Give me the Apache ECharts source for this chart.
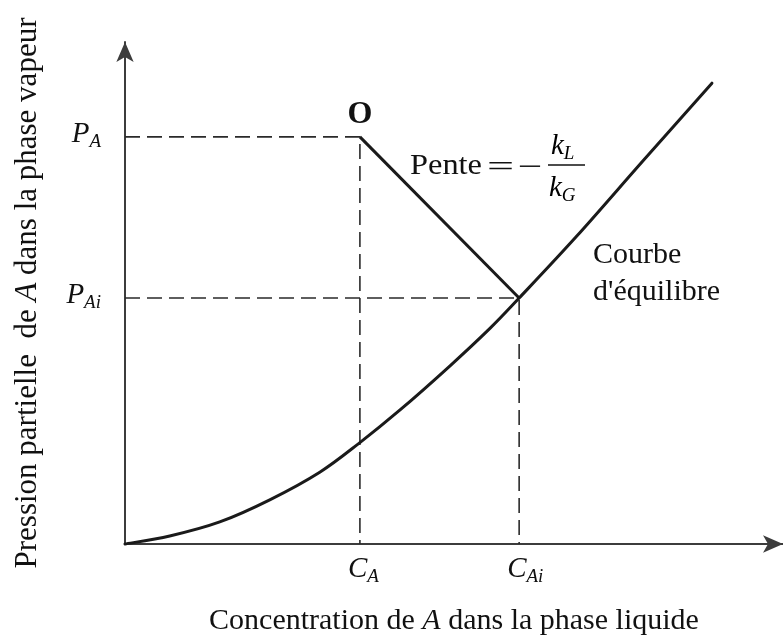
<!DOCTYPE html>
<html>
<head>
<meta charset="utf-8">
<title>Film à deux résistances</title>
<script src="https://cdn.jsdelivr.net/npm/echarts@6/dist/echarts.min.js"></script>
<style>
  html, body { margin: 0; padding: 0; background: #ffffff; }
  #chart { width: 783px; height: 637px; }
</style>
</head>
<body>
<div id="chart"></div>
<script>
// Equilibrium curve (arbitrary units on both axes)
const eqConc  = [0, 6.8, 14.4, 22.0, 29.6, 35.6, 41.8, 49.4, 55.5, 59.9, 68.7, 78.7, 89.2];
const eqPress = [0, 1.6, 4.4, 8.8, 14.3, 20.1, 26.7, 35.5, 43.0, 49.0, 61.4, 76.3, 91.8];

// Bulk point O (C_A, P_A) and interface point (C_Ai, P_Ai)
const bulkPoint = [35.7, 81.1];
const interfacePoint = [59.9, 49.0];

// Axis labels: [main letter, subscript]
const yTickLabels = [['P', 'A'], ['P', 'Ai']];
const xTickLabels = [['C', 'A'], ['C', 'Ai']];

const SERIF = "'Liberation Serif', 'Times New Roman', serif";
const INK = '#111111';

const chart = echarts.init(document.getElementById('chart'), null, { renderer: 'canvas' });

const symbolRich = {
  m: { fontFamily: SERIF, fontStyle: 'italic', fontSize: 29, color: INK, lineHeight: 30 },
  s: { fontFamily: SERIF, fontStyle: 'italic', fontSize: 19, color: INK, padding: [16, 0, 0, 0], lineHeight: 20 }
};
const symbolText = (pair) => '{m|' + pair[0] + '}{s|' + pair[1] + '}';

const dashStyle = { color: '#2a2a2a', width: 1.6, type: [15, 7] };
const arrowLine = {
  show: true, symbol: ['none', 'arrow'], symbolSize: [13, 20], symbolOffset: [0, 0],
  lineStyle: { color: '#3c3c3c', width: 2 }
};

// Smooth Catmull-Rom path through the equilibrium points, in pixel space
function renderEquilibrium(params, api) {
  if (params.dataIndex !== 0) return null;
  const pts = eqConc.map((c, i) => api.coord([c, eqPress[i]]));
  let d = 'M' + pts[0][0] + ' ' + pts[0][1];
  for (let i = 0; i < pts.length - 1; i++) {
    const p0 = pts[Math.max(i - 1, 0)];
    const p1 = pts[i];
    const p2 = pts[i + 1];
    const p3 = pts[Math.min(i + 2, pts.length - 1)];
    const c1x = p1[0] + (p2[0] - p0[0]) / 6, c1y = p1[1] + (p2[1] - p0[1]) / 6;
    const c2x = p2[0] - (p3[0] - p1[0]) / 6, c2y = p2[1] - (p3[1] - p1[1]) / 6;
    d += ' C' + c1x + ' ' + c1y + ' ' + c2x + ' ' + c2y + ' ' + p2[0] + ' ' + p2[1];
  }
  return {
    type: 'path',
    shape: { pathData: d },
    style: { fill: 'none', stroke: '#1a1a1a', lineWidth: 3, lineJoin: 'round', lineCap: 'round' }
  };
}

const option = {
  backgroundColor: '#ffffff',
  animation: false,
  grid: { left: 125, right: 0, top: 42, bottom: 93, outerBoundsMode: 'none' },
  xAxis: {
    type: 'value', min: 0, max: 100,
    name: 'Concentration de {i|A} dans la phase liquide',
    nameLocation: 'middle', nameGap: 62,
    nameTextStyle: {
      fontFamily: SERIF, fontSize: 30, color: INK,
      rich: { i: { fontFamily: SERIF, fontStyle: 'italic', fontSize: 30, color: INK } }
    },
    axisLine: arrowLine,
    axisTick: { show: false }, axisLabel: { show: false }, splitLine: { show: false }
  },
  yAxis: {
    type: 'value', min: 0, max: 100,
    name: 'Pression partielle  de {i|A} dans la phase vapeur',
    nameLocation: 'middle', nameGap: 82, nameRotate: 90,
    nameTextStyle: {
      fontFamily: SERIF, fontSize: 31, color: INK,
      rich: { i: { fontFamily: SERIF, fontStyle: 'italic', fontSize: 31, color: INK } }
    },
    axisLine: arrowLine,
    axisTick: { show: false }, axisLabel: { show: false }, splitLine: { show: false }
  },
  series: [
    {
      name: 'guide P_A',
      type: 'line', silent: true, symbol: 'none', z: 2,
      data: [[0, bulkPoint[1]], [bulkPoint[0], bulkPoint[1]], [bulkPoint[0], 0]],
      lineStyle: dashStyle
    },
    {
      name: 'guide P_Ai',
      type: 'line', silent: true, symbol: 'none', z: 2,
      data: [[0, interfacePoint[1]], [interfacePoint[0], interfacePoint[1]], [interfacePoint[0], 0]],
      lineStyle: dashStyle
    },
    {
      name: 'Courbe d\'équilibre',
      type: 'custom', silent: true, z: 4,
      data: eqConc.map((c, i) => [c, eqPress[i]]),
      encode: { x: 0, y: 1 },
      renderItem: renderEquilibrium
    },
    {
      name: 'Droite opératoire',
      type: 'line', silent: true, symbol: 'none', z: 4,
      data: [bulkPoint, interfacePoint],
      lineStyle: { color: '#1a1a1a', width: 3 }
    },
    {
      name: 'y labels',
      type: 'scatter', silent: true, symbolSize: 0, z: 5,
      itemStyle: { opacity: 1 },
      data: [[0, bulkPoint[1]], [0, interfacePoint[1]]].map((v, i) => ({
        value: v,
        label: { formatter: symbolText(yTickLabels[i]) }
      })),
      label: { show: true, opacity: 1, position: 'left', distance: 24, offset: [0, -3], rich: symbolRich }
    },
    {
      name: 'x labels',
      type: 'scatter', silent: true, symbolSize: 0, z: 5,
      itemStyle: { opacity: 1 },
      data: [[bulkPoint[0], 0], [interfacePoint[0], 0]].map((v, i) => ({
        value: v,
        label: { formatter: symbolText(xTickLabels[i]) }
      })),
      label: { show: true, opacity: 1, position: 'bottom', distance: 10, align: 'left', offset: [-12, 0], rich: symbolRich }
    },
    {
      name: 'O',
      type: 'scatter', silent: true, symbolSize: 0, z: 5,
      itemStyle: { opacity: 1 },
      data: [bulkPoint],
      label: {
        show: true, opacity: 1, position: 'top', distance: 6, formatter: 'O',
        fontFamily: SERIF, fontWeight: 'bold', fontSize: 32, color: INK
      }
    }
  ],
  graphic: [
    // slope annotation: Pente = −k_L / k_G
    { type: 'text', x: 410, y: 151, scaleX: 1.08, silent: true,
      style: { text: 'Pente', font: '30px ' + SERIF, fill: INK } },
    { type: 'text', x: 487, y: 153, scaleX: 1.6, silent: true,
      style: { text: '=', font: '30px ' + SERIF, fill: INK } },
    { type: 'text', x: 518, y: 153, scaleX: 1.45, silent: true,
      style: { text: '\u2212', font: '30px ' + SERIF, fill: INK } },
    { type: 'line', silent: true,
      shape: { x1: 548, y1: 165, x2: 585, y2: 165 },
      style: { stroke: INK, lineWidth: 1.6 } },
    { type: 'text', x: 551, y: 131, silent: true,
      style: { text: '{m|k}{s|L}', rich: symbolRich } },
    { type: 'text', x: 549, y: 173, silent: true,
      style: { text: '{m|k}{s|G}', rich: symbolRich } },
    // equilibrium curve caption
    { type: 'text', x: 593, y: 237, silent: true,
      style: { text: 'Courbe\nd\'équilibre', font: '30px ' + SERIF, lineHeight: 37, fill: INK } }
  ]
};

chart.setOption(option);
</script>
</body>
</html>
